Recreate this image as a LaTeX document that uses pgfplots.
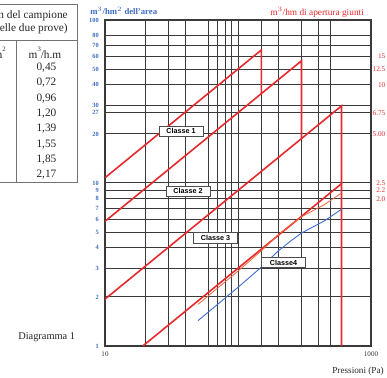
\documentclass[border=0pt]{standalone}
\usepackage{pgfplots}
\pgfplotsset{compat=1.18}
\usepackage{fontspec}
\setmainfont{Liberation Serif}
\newfontfamily\boxfont{Liberation Sans}

\definecolor{clsred}{HTML}{E8282C}
\definecolor{measred}{HTML}{F2643A}
\definecolor{areablue}{HTML}{3F6FD0}
\definecolor{lblblue}{HTML}{3D6CC2}
\definecolor{gridgray}{HTML}{3A3A3A}

\begin{document}
\begin{tikzpicture}

% ---- main log-log diagram: air permeability classes ----
\begin{axis}[
  at={(78.75pt,24pt)}, anchor=south west,
  scale only axis, width=199.5pt, height=244.5pt,
  xmode=log, ymode=log,
  xmin=10, xmax=1000, ymin=1, ymax=100,
  xtick={10,20,30,40,60,70,80,90,100,150,200,300,400,500,1000},
  xticklabels={10,,,,,,,,,,,,,,1000},
  ytick={1,2,3,4,5,6,7,8,9,10,20,27,30,40,50,60,70,80,100},
  yticklabels={1,2,3,4,5,6,7,8,9,10,20,27,30,40,50,60,70,80,100},
  minor tick length=0pt, major tick length=0pt,
  tick style={draw=none},
  grid=major,
  major grid style={draw=gridgray, line width=0.75pt},
  axis line style={draw=gridgray, line width=0.8pt},
  xticklabel style={font=\fontsize{5.3}{6}\selectfont, text=black!80, inner sep=0pt, yshift=-4.5pt},
  yticklabel style={font=\bfseries\fontsize{4.8}{5}\selectfont, text=lblblue, inner sep=0pt, xshift=-4.5pt},
]
% class limits, Q = Q100 (p/100)^(2/3)
\addplot[clsred, line width=1.2pt] coordinates {(10,10.77) (150,65.52) (150,35.38)};
\addplot[clsred, line width=1.2pt] coordinates {(10,5.817) (300,56.16) (300,18.72)};
\addplot[clsred, line width=1.2pt] coordinates {(10,1.939) (600,29.72) (600,1)};
\addplot[clsred, line width=1.2pt] coordinates {(19.25,1) (600,9.906)};
% measured sample, per unit area
\addplot[areablue, line width=0.7pt] coordinates {
  (50,1.43) (100,2.29) (150,3.05) (200,3.82) (250,4.42) (300,4.93) (450,5.88) (600,6.90)};
% measured sample, per joint length (x4 on the area scale)
\addplot[measred, line width=0.6pt] coordinates {
  (50,1.80) (100,2.88) (150,3.84) (200,4.80) (250,5.56) (300,6.20) (450,7.40) (600,8.68)};

\tikzset{clsbox/.style={draw=black!70, line width=0.6pt, fill=white, inner sep=0pt,
  minimum width=33pt, minimum height=7.6pt,
  font=\boxfont\bfseries\fontsize{5.4}{6}\selectfont}}
\node[clsbox] at (axis cs:37.3,20.8) {Classe 1};
\node[clsbox] at (axis cs:42.1,8.93) {Classe 2};
\node[clsbox] at (axis cs:67.8,4.60) {Classe 3};
\node[clsbox] at (axis cs:220,3.25) {Classe4};
\end{axis}

% ---- right-hand scale: per metre of joint ----
\begin{axis}[
  at={(78.75pt,24pt)}, anchor=south west,
  scale only axis, width=199.5pt, height=244.5pt,
  xmode=log, ymode=log,
  xmin=10, xmax=1000, ymin=1, ymax=100,
  axis x line=none, axis y line*=right,
  y axis line style={draw=none},
  tick style={draw=none}, major tick length=0pt, minor tick length=0pt,
  ytick={8,9,10,20,27,40,50,60},
  yticklabels={2.0,2.2,2.5,5.00,6.75,10,12.5,15},
  yticklabel style={font=\fontsize{5.4}{6}\selectfont, text=clsred, anchor=east, inner sep=0pt, xshift=10.9pt},
]
\end{axis}

% ---- texts and table, in pixel-like units from the top left ----
\begin{scope}[x=0.75pt, y=-0.75pt, shift={(0pt,283.5pt)}]
  \node[anchor=west, text=lblblue, font=\bfseries\fontsize{6.5}{7}\selectfont, inner sep=0pt]
    at (90,11) {m$^{3}$/hm$^{2}$ dell'area};
  \node[anchor=west, text=clsred, font=\fontsize{7}{8}\selectfont, inner sep=0pt]
    at (270,12) {m$^{3}$/hm di apertura giunti};
  \node[anchor=west, font=\fontsize{7.8}{9}\selectfont, inner sep=0pt, text=black!85]
    at (18,337) {Diagramma 1};
  \node[anchor=east, font=\fontsize{6.9}{8}\selectfont, inner sep=0pt, text=black!85]
    at (384,371) {Pressioni (Pa)};

  \begin{scope}
    \clip (0,0) rectangle (88,200);
    \draw[black!55, line width=0.5pt] (-5,4) -- (77,4) -- (77,182) -- (-5,182);
    \draw[black!55, line width=0.5pt] (-5,40) -- (77,40);
    \draw[black!55, line width=0.5pt] (16,40) -- (16,182);
    \begin{scope}[every node/.style={font=\fontsize{8.5}{10}\selectfont, inner sep=0pt, text=black!85}]
      \node[anchor=east] at (68,16) {n del campione};
      \node[anchor=east] at (68,29) {(media delle due prove)};
      \node[anchor=east] at (6,53) {m\raisebox{5pt}{\fontsize{5}{5}\selectfont 3}/h.m\raisebox{5pt}{\fontsize{5}{5}\selectfont 2}};
      \node at (45,53) {m\raisebox{5pt}{\fontsize{5}{5}\selectfont 3}/h.m};
      \foreach \v [count=\i from 0] in {{0,45},{0,72},{0,96},{1,20},{1,39},{1,55},{1,85},{2,17}} {
        \node at (46.5,67.7+15.3*\i) {\v};
      }
    \end{scope}
  \end{scope}
\end{scope}

\pgfresetboundingbox
\path[use as bounding box] (0,0) rectangle (290.25pt,283.5pt);
\end{tikzpicture}
\end{document}
